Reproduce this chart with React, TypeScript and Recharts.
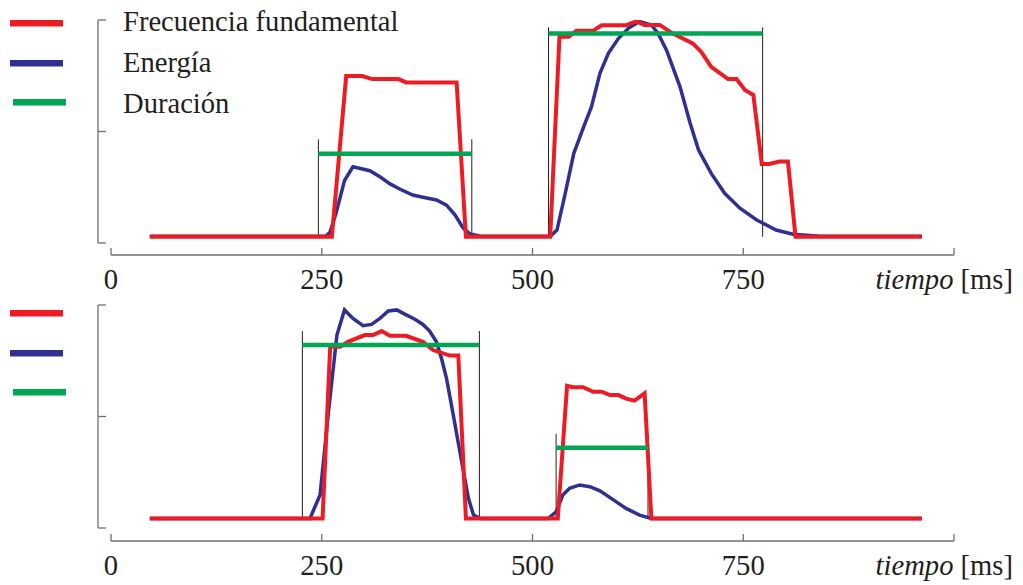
import React from 'react';
import { LineChart, Line, XAxis, YAxis, ReferenceLine } from 'recharts';

const RED = '#ed1c24';
const BLUE = '#2e3192';
const GREEN = '#00a651';
const AXIS = '#6d6e71';
const INK = '#231f20';
const FONT = '"Liberation Serif", "Times New Roman", serif';
const FS = 28.6;

const xTicks = [0, 250, 500, 750, 1000];
const yTicks = [0, 0.5, 1];
const legendLabels = ['Frecuencia fundamental', 'Energía', 'Duración'];
const legendColors = [RED, BLUE, GREEN];

// Top panel
const topFreq = [
  [46, 0.028], [262, 0.028], [279, 0.749], [298, 0.749], [310, 0.735], [341, 0.735], [350, 0.72], [410, 0.72],
  [421, 0.028], [521, 0.028], [532, 0.925], [543, 0.925], [552, 0.952], [572, 0.952], [582, 0.976], [611, 0.976],
  [623, 0.994], [633, 0.978], [651, 0.978], [666, 0.94], [690, 0.895], [700, 0.858], [712, 0.79], [732, 0.735],
  [742, 0.735], [752, 0.686], [762, 0.664], [772, 0.354], [781, 0.354], [793, 0.365], [803, 0.365], [812, 0.028],
  [962, 0.028],
];
const topEnergy = [
  [46, 0.03], [255, 0.03], [260, 0.05], [267, 0.134], [277, 0.28], [287, 0.342], [307, 0.324], [319, 0.297],
  [331, 0.265], [343, 0.241], [358, 0.215], [370, 0.205], [386, 0.193], [398, 0.17], [408, 0.126], [418, 0.066],
  [426, 0.04], [438, 0.03], [521, 0.03], [529, 0.058], [538, 0.208], [549, 0.402], [560, 0.514], [570, 0.611],
  [580, 0.761], [590, 0.851], [602, 0.918], [615, 0.967], [627, 0.993], [641, 0.978], [649, 0.94], [659, 0.865],
  [675, 0.7], [687, 0.537], [697, 0.417], [712, 0.312], [728, 0.223], [746, 0.156], [766, 0.103], [789, 0.058],
  [809, 0.039], [841, 0.03], [962, 0.03],
];
const topDur = [
  { start: 246, end: 428, level: 0.4, top: 0.465 },
  { start: 519, end: 773, level: 0.94, top: 0.967 },
];
const topBase = 0.028;

// Bottom panel
const bottomFreq = [
  [46, 0.043], [251, 0.043], [260, 0.813], [272, 0.813], [281, 0.835], [301, 0.865], [311, 0.865], [321, 0.883],
  [331, 0.862], [350, 0.862], [370, 0.835], [382, 0.798], [402, 0.773], [412, 0.773], [421, 0.043], [530, 0.043],
  [541, 0.638], [548, 0.631], [560, 0.631], [572, 0.611], [582, 0.611], [592, 0.596], [602, 0.596], [611, 0.58],
  [621, 0.571], [633, 0.604], [641, 0.043], [962, 0.043],
];
const bottomEnergy = [
  [46, 0.043], [236, 0.043], [248, 0.148], [258, 0.522], [268, 0.865], [277, 0.978], [287, 0.94], [299, 0.907],
  [309, 0.913], [319, 0.94], [329, 0.973], [339, 0.978], [349, 0.958], [360, 0.937], [370, 0.913], [378, 0.883],
  [386, 0.835], [392, 0.761], [398, 0.671], [406, 0.507], [416, 0.297], [424, 0.133], [430, 0.058], [438, 0.043],
  [519, 0.043], [528, 0.073], [536, 0.148], [544, 0.178], [556, 0.193], [568, 0.185], [580, 0.167], [596, 0.126],
  [611, 0.088], [627, 0.058], [641, 0.043], [962, 0.043],
];
const bottomDur = [
  { start: 227, end: 437, level: 0.821, top: 0.883 },
  { start: 528, end: 637, level: 0.36, top: 0.422 },
];
const bottomBase = 0.043;

const toPoints = (arr: number[][]) => arr.map(([t, v]) => ({ t, v }));

type PanelProps = {
  freq: number[][];
  energy: number[][];
  dur: { start: number; end: number; level: number; top: number }[];
  base: number;
  offsetTop: number;
  axisShift: number;
};

function Panel({ freq, energy, dur, base, offsetTop, axisShift }: PanelProps) {
  const xTick = (p: any) => {
    const v = p.payload && p.payload.value;
    if (v === 1000) return <g />;
    return (
      <text x={p.x} y={p.y + 7 + axisShift + 34} textAnchor="middle" fontSize={FS} fill={INK} fontFamily={FONT}>
        {v}
      </text>
    );
  };
  const xLabel = (p: any) => {
    const vb = p.viewBox || {};
    return (
      <text x={vb.x + vb.width + 59} y={vb.y + axisShift + 34} textAnchor="end" fontSize={FS} fill={INK} fontFamily={FONT}>
        <tspan fontStyle="italic">tiempo</tspan>
        <tspan>{' [ms]'}</tspan>
      </text>
    );
  };
  return (
    <div style={{ position: 'absolute', left: 0, top: offsetTop, width: 1023, height: 300 }}>
      <LineChart width={1023} height={300} margin={{ top: 20, right: 69, left: 91, bottom: 27 }}>
        <XAxis
          type="number"
          dataKey="t"
          domain={[0, 1000]}
          ticks={xTicks}
          allowDataOverflow
          height={30}
          axisLine={{ stroke: AXIS, strokeWidth: 1.3, transform: `translate(0,${axisShift})` }}
          tickLine={{ stroke: AXIS, strokeWidth: 1.3, transform: `translate(0,${axisShift})` }}
          tickSize={-7}
          tickMargin={0}
          tick={xTick}
          label={xLabel}
        />
        <YAxis
          type="number"
          dataKey="v"
          domain={[0, 1]}
          ticks={yTicks}
          allowDataOverflow
          width={20}
          axisLine={{ stroke: AXIS, strokeWidth: 1.3, transform: 'translate(-13,0)' }}
          tickLine={{ stroke: AXIS, strokeWidth: 1.3, transform: 'translate(-13,0)' }}
          tickSize={-8}
          tickFormatter={() => ''}
        />
        {dur.map((d, i) => (
          <ReferenceLine
            key={`l${i}`}
            segment={[{ x: d.start, y: base }, { x: d.start, y: d.top }]}
            stroke={INK}
            strokeWidth={1}
            ifOverflow="visible"
          />
        ))}
        {dur.map((d, i) => (
          <ReferenceLine
            key={`r${i}`}
            segment={[{ x: d.end, y: base }, { x: d.end, y: d.top }]}
            stroke={INK}
            strokeWidth={1}
            ifOverflow="visible"
          />
        ))}
        <Line
          data={toPoints(energy)}
          dataKey="v"
          type="linear"
          stroke={BLUE}
          strokeWidth={3.5}
          dot={false}
          activeDot={false}
          isAnimationActive={false}
        />
        <Line
          data={toPoints(freq)}
          dataKey="v"
          type="linear"
          stroke={RED}
          strokeWidth={4}
          dot={false}
          activeDot={false}
          isAnimationActive={false}
        />
        {dur.map((d, i) => (
          <ReferenceLine
            key={`g${i}`}
            segment={[{ x: d.start, y: d.level }, { x: d.end, y: d.level }]}
            stroke={GREEN}
            strokeWidth={4.5}
            ifOverflow="visible"
          />
        ))}
      </LineChart>
    </div>
  );
}

function LegendSwatches({ offsetTop, withText }: { offsetTop: number; withText: boolean }) {
  const ys = [23.3, 63.3, 102.3];
  const textYs = [31, 72, 113];
  return (
    <svg
      width={320}
      height={120}
      style={{ position: 'absolute', left: 0, top: offsetTop, overflow: 'visible' }}
    >
      {legendColors.map((c, i) => (
        <line key={c} x1={i === 2 ? 13 : 10} x2={i === 2 ? 66 : 63} y1={ys[i]} y2={ys[i]} stroke={c} strokeWidth={6.5} />
      ))}
      {withText &&
        legendLabels.map((l, i) => (
          <text key={l} x={123} y={textYs[i]} fontSize={FS} fill={INK} fontFamily={FONT}>
            {l}
          </text>
        ))}
    </svg>
  );
}

export default function App() {
  return (
    <div
      style={{
        position: 'absolute',
        left: 0,
        top: 0,
        width: 1023,
        height: 585,
        background: '#fff',
        fontFamily: FONT,
        overflow: 'hidden',
      }}
    >
      <Panel freq={topFreq} energy={topEnergy} dur={topDur} base={topBase} offsetTop={0} axisShift={12} />
      <Panel freq={bottomFreq} energy={bottomEnergy} dur={bottomDur} base={bottomBase} offsetTop={285} axisShift={13} />
      <LegendSwatches offsetTop={0} withText />
      <LegendSwatches offsetTop={290} withText={false} />
    </div>
  );
}
